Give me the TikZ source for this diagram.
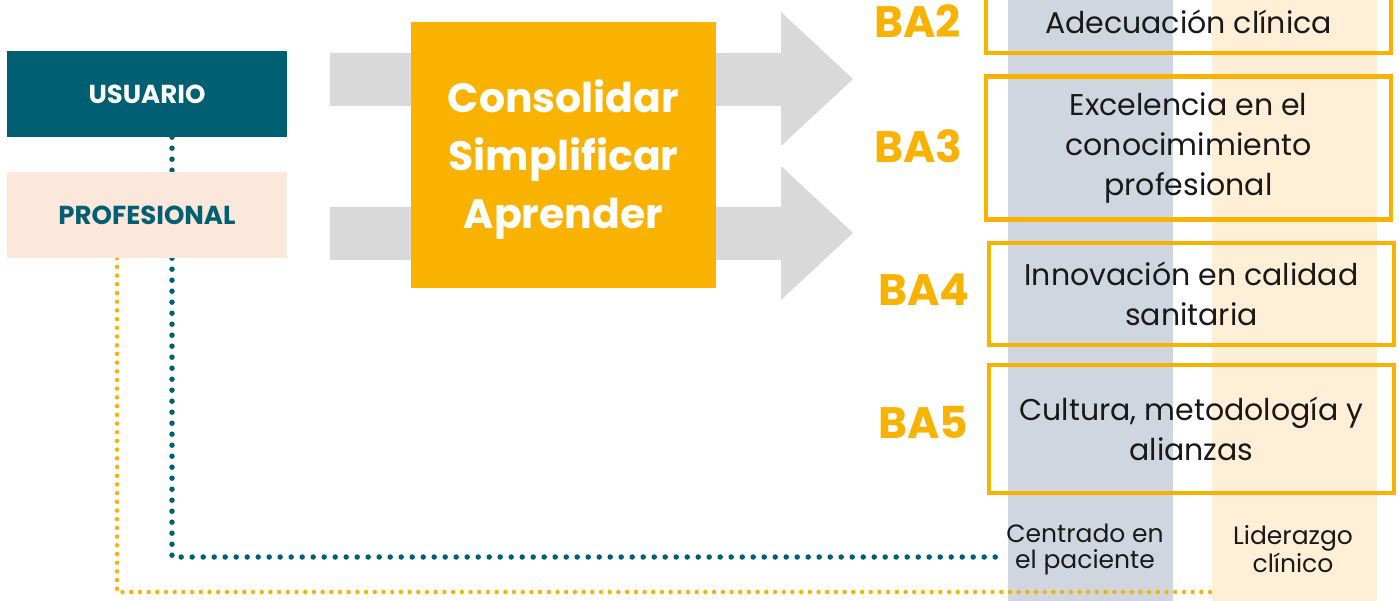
\documentclass[tikz,border=0pt]{standalone}
\usepackage{fontspec}
\setmainfont{Poppins}
\usepackage{xcolor}

\definecolor{usrteal}{RGB}{0,95,115}
\definecolor{profsand}{RGB}{251,232,218}
\definecolor{bagold}{RGB}{249,178,0}
\definecolor{arrowgray}{RGB}{217,217,217}
\definecolor{bandgray}{RGB}{207,214,223}
\definecolor{bandsand}{RGB}{255,239,214}
\definecolor{txtblack}{RGB}{25,25,25}

\pgfdeclarelayer{bands}
\pgfdeclarelayer{links}
\pgfsetlayers{bands,links,main}

\begin{document}
\begin{tikzpicture}[x=1pt,y=-1pt,
    rolebox/.style={rectangle, minimum width=280pt, minimum height=86pt, inner sep=0pt,
        font=\fontsize{26}{30}\selectfont\bfseries},
    band/.style={rectangle, minimum width=165pt, minimum height=601pt, inner sep=0pt},
    babox/.style={rectangle, draw=bagold, line width=4.5pt, minimum width=405pt, inner sep=0pt,
        align=center, text=txtblack, font=\fontsize{30}{40}\selectfont},
    balabel/.style={anchor=base west, text=bagold, inner sep=0pt, font=\fontsize{44}{44}\selectfont\bfseries},
    collabel/.style={align=center, text=txtblack, inner sep=0pt, font=\fontsize{25}{26}\selectfont},
    tealdots/.style={draw=usrteal, line width=5.5pt, line cap=round, dash pattern=on 0pt off 11pt},
    golddots/.style={draw=bagold, line width=4.5pt, line cap=round, dash pattern=on 0pt off 8.7pt}]

    \useasboundingbox (0,0) rectangle (1399,601);

    % Background bands
    \begin{pgfonlayer}{bands}
    \node[band, fill=bandgray] (pacband) at (1090.5,300.5) {};
    \node[band, fill=bandsand] (liderband) at (1294.5,300.5) {};
    \end{pgfonlayer}

    % Roles
    \node[rolebox, fill=usrteal, text=white] (usuario) at (147,94) {USUARIO};
    \node[rolebox, fill=profsand, text=usrteal] (profesional) at (147,215) {PROFESIONAL};

    % Grey block arrows
    \fill[arrowgray] (330,53) -- (781,53) -- (781,12) -- (853,79) -- (781,146) -- (781,106) -- (330,106) -- cycle;
    \fill[arrowgray] (330,207) -- (781,207) -- (781,166) -- (853,233) -- (781,300) -- (781,260) -- (330,260) -- cycle;

    % Central box
    \node[rectangle, fill=bagold, minimum width=305pt, minimum height=266pt, inner sep=0pt] (lemas) at (563.5,155) {};
    \node[align=center, text=white, font=\fontsize{41}{58}\selectfont\bfseries] (lemastxt) at (563.5,160)
        {Consolidar\\Simplificar\\Aprender};

    % Lines of action
    \node[babox, minimum height=63pt] (ba2) at (1188.5,21.5) {Adecuación clínica};
    \node[babox, minimum height=143pt] (ba3) at (1188.5,148) {Excelencia en el\\conocimimiento\\profesional};
    \node[babox, minimum height=102pt] (ba4) at (1191.5,294) {Innovación en calidad\\sanitaria};
    \node[babox, minimum height=128pt] (ba5) at (1191.5,429) {Cultura, metodología y\\alianzas};

    \node[balabel] (ba2lbl) at (874,38) {BA2};
    \node[balabel] (ba3lbl) at (874,163) {BA3};
    \node[balabel] (ba4lbl) at (878,306) {BA4};
    \node[balabel] (ba5lbl) at (878,438) {BA5};

    % Band labels
    \node[collabel] (paciente) at (1085,549) {Centrado en\\el paciente};
    \node[collabel] (liderazgo) at (1293,549) {Liderazgo\\clínico};

    % Dotted links, kept behind the role boxes
    \begin{pgfonlayer}{links}
    \draw[tealdots] (usuario.south -| 172,0) -- (172,557) -- (paciente.west |- 0,557);
    \draw[golddots] (profesional.south -| 117,0) -- (117,592) -- (liderband.west |- 0,592);
    \end{pgfonlayer}
\end{tikzpicture}
\end{document}
